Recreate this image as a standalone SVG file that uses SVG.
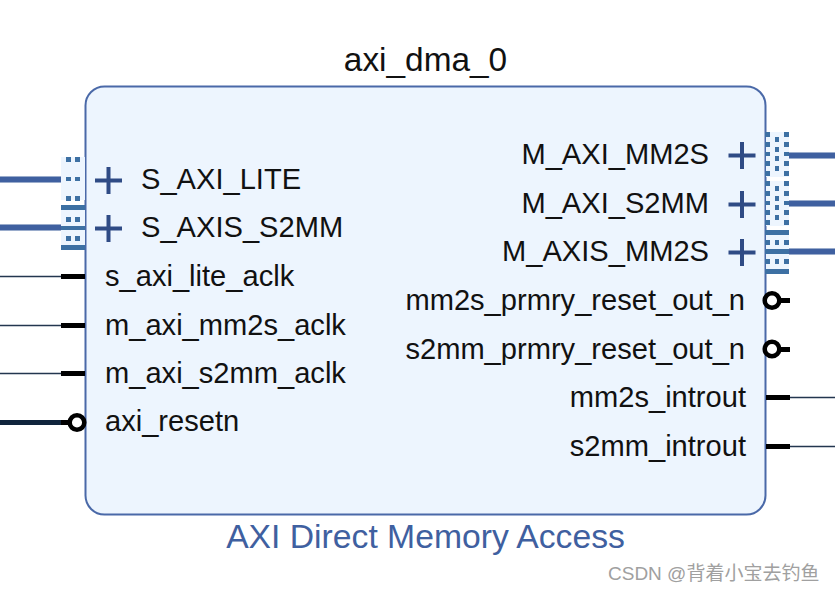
<svg xmlns="http://www.w3.org/2000/svg" width="835" height="592" viewBox="0 0 835 592">
<style>
text{font-family:"Liberation Sans",Arial,sans-serif;font-size:29.100px;fill:#111}
.r{text-anchor:end}
.bus{stroke:#3f60a0;stroke-width:5;fill:none}
.halo{stroke:#9aaccc;stroke-width:7;fill:none}
.thin{stroke:#23364f;stroke-width:1.6;fill:none}
.pin{stroke:#000;stroke-width:5;fill:none}
.plus{stroke:#2f4b85;stroke-width:4;fill:none}
.bub{fill:#fff;stroke:#000;stroke-width:4.500}
.d{fill:#3d70a3}
.bg{fill:#edf5fe}
</style>
<defs>
<g id="plus"><path class="plus" d="M-13.500 0H13.500M0-13.500V13.500"/></g>
<g id="lm">
<rect class="bg" x="61" y="0" width="24" height="43"/>
<rect class="d" x="66" y="0" width="5" height="5"/><rect class="d" x="75" y="0" width="5" height="5"/>
<rect class="d" x="66" y="20" width="5" height="4"/><rect class="d" x="75" y="20" width="5" height="4"/>
<rect class="d" x="66" y="39" width="5" height="5"/><rect class="d" x="75" y="39" width="5" height="5"/>
</g>
<g id="rm">
<rect class="bg" x="766" y="0" width="23" height="45"/>
<g class="d">
<rect x="765" y="0" width="5" height="5"/><rect x="784" y="0" width="5" height="5"/>
<rect x="775" y="5" width="4" height="5"/>
<rect x="765" y="10" width="5" height="5"/><rect x="784" y="10" width="5" height="5"/>
<rect x="775" y="15" width="4" height="5"/>
<rect x="765" y="20" width="5" height="4"/><rect x="784" y="20" width="5" height="4"/>
<rect x="775" y="24" width="4" height="5"/>
<rect x="765" y="29" width="5" height="5"/><rect x="784" y="29" width="5" height="5"/>
<rect x="775" y="34" width="4" height="5"/>
<rect x="765" y="39" width="5" height="5"/><rect x="784" y="39" width="5" height="5"/>
</g>
</g>
</defs>
<g id="connectors">
<path class="halo" d="M0 179.500H62M0 227.500H62M789 155.500H835M789 203.500H835M789 251.500H835"/>
<path class="bus" d="M0 179.500H62M0 227.500H62M789 155.500H835M789 203.500H835M789 251.500H835"/>
<path class="thin" d="M0 276.500H62M0 325.500H62M0 373.500H62M789 397.500H835M789 446.500H835"/>
<path d="M0 422.500H62" stroke="#10243c" stroke-width="5" fill="none"/>
</g>
<g id="axi_dma_0">
<text x="425.500" y="71" text-anchor="middle" style="font-size:33.400px">axi_dma_0</text>
<rect x="85.500" y="86.500" width="680" height="428" rx="19" fill="#edf5fe" stroke="#4a69a8" stroke-width="2"/>
<text x="425.500" y="548" text-anchor="middle" style="font-size:33.700px;fill:#3f60a0">AXI Direct Memory Access</text>
</g>
<g id="port_S_AXI_LITE">
<use href="#lm" y="157"/>
<use href="#plus" x="108.500" y="180.500"/>
<text x="141" y="189">S_AXI_LITE</text>
</g>
<g id="port_S_AXIS_S2MM">
<rect class="bg" x="61" y="205" width="24" height="44"/>
<g class="d">
<rect x="61" y="205" width="24" height="5"/><rect x="61" y="226" width="24" height="4"/><rect x="61" y="245" width="24" height="5"/>
<rect x="66" y="217" width="5" height="5"/><rect x="75" y="217" width="5" height="5"/>
<rect x="66" y="236" width="5" height="5"/><rect x="75" y="236" width="5" height="5"/>
</g>
<use href="#plus" x="108.500" y="228.500"/>
<text x="141" y="237">S_AXIS_S2MM</text>
</g>
<g id="port_s_axi_lite_aclk"><path class="pin" d="M61 276.500H85"/><text x="105" y="286">s_axi_lite_aclk</text></g>
<g id="port_m_axi_mm2s_aclk"><path class="pin" d="M61 325.500H85"/><text x="105" y="335">m_axi_mm2s_aclk</text></g>
<g id="port_m_axi_s2mm_aclk"><path class="pin" d="M61 373.500H85"/><text x="105" y="383">m_axi_s2mm_aclk</text></g>
<g id="port_axi_resetn"><path class="pin" d="M61 422.500H70"/><circle class="bub" cx="77" cy="422.500" r="7.300"/><text x="105" y="431">axi_resetn</text></g>
<g id="port_M_AXI_MM2S">
<use href="#rm" y="132"/>
<use href="#plus" x="742" y="155.500"/>
<text class="r" x="709" y="164">M_AXI_MM2S</text>
</g>
<g id="port_M_AXI_S2MM">
<use href="#rm" y="181"/>
<use href="#plus" x="742" y="204.500"/>
<text class="r" x="709" y="213">M_AXI_S2MM</text>
</g>
<g id="port_M_AXIS_MM2S">
<rect class="bg" x="766" y="230" width="23" height="44"/>
<g class="d">
<rect x="765" y="230" width="24" height="5"/><rect x="765" y="249" width="24" height="5"/><rect x="765" y="269" width="24" height="5"/>
<rect x="765" y="240" width="5" height="5"/><rect x="775" y="240" width="4" height="5"/><rect x="784" y="240" width="5" height="5"/>
<rect x="765" y="259" width="5" height="5"/><rect x="775" y="259" width="4" height="5"/><rect x="784" y="259" width="5" height="5"/>
</g>
<use href="#plus" x="742" y="252.500"/>
<text class="r" x="709" y="261">M_AXIS_MM2S</text>
</g>
<g id="port_mm2s_prmry_reset_out_n"><path class="pin" d="M779 300.500H790"/><circle class="bub" cx="772" cy="300.500" r="7.300"/><text class="r" x="745" y="310">mm2s_prmry_reset_out_n</text></g>
<g id="port_s2mm_prmry_reset_out_n"><path class="pin" d="M779 349.500H790"/><circle class="bub" cx="772" cy="349" r="7.300"/><text class="r" x="745" y="359">s2mm_prmry_reset_out_n</text></g>
<g id="port_mm2s_introut"><path class="pin" d="M766 397.500H790"/><text class="r" x="746" y="407">mm2s_introut</text></g>
<g id="port_s2mm_introut"><path class="pin" d="M766 446.500H790"/><text class="r" x="746" y="456">s2mm_introut</text></g>
<text x="608" y="580" style="font-size:19px;fill:#a0a0a0;font-family:'Liberation Sans','Noto Sans CJK SC',sans-serif">CSDN @背着小宝去钓鱼</text>
</svg>
